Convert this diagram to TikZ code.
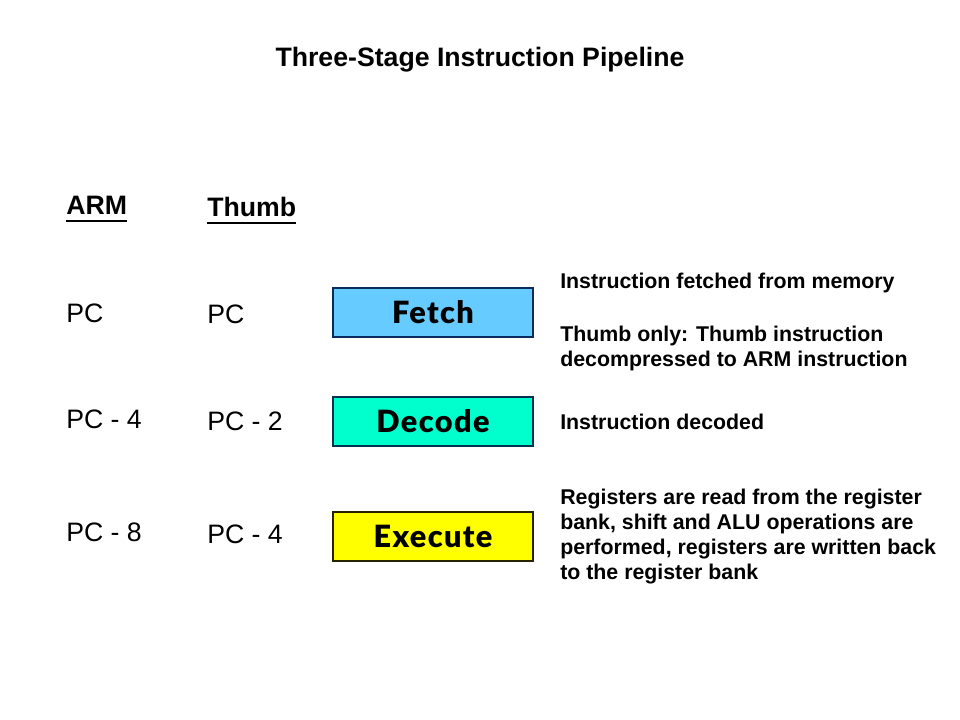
\documentclass[tikz,border=0pt]{standalone}
\usepackage{fontspec}
\setmainfont{Liberation Sans}
\newfontfamily\boxfont[BoldFont={Lato Black},LetterSpace=4.5]{Lato}
\definecolor{fetchfill}{HTML}{66CCFF}
\definecolor{decodefill}{HTML}{00FFCC}
\definecolor{execfill}{HTML}{FFFF00}
\definecolor{fetchline}{HTML}{0B2B5C}
\definecolor{decodeline}{HTML}{0A3050}
\definecolor{execline}{HTML}{262400}
\begin{document}
\begin{tikzpicture}[x=0.75pt,y=-0.75pt,
  txt/.style={inner sep=0pt,anchor=base west,font=\fontsize{20pt}{24pt}\selectfont},
  hdr/.style={txt,font=\fontsize{20pt}{24pt}\selectfont\bfseries},
  note/.style={inner sep=0pt,anchor=base west,align=left,font=\fontsize{16pt}{18.75pt}\selectfont\bfseries},
  stage/.style={draw,line width=1.1pt,minimum width=150pt,minimum height=36.75pt,inner sep=0pt,
    text height=16pt,text depth=0pt,font=\fontsize{23pt}{26pt}\selectfont\boxfont\bfseries},
  uline/.style={line width=1.6pt}]
\useasboundingbox (0,0) rectangle (960,720);
\fill[white] (0,0) rectangle (960,720);
% title
\node[inner sep=0pt,anchor=base,font=\fontsize{20pt}{24pt}\selectfont\bfseries] (title) at (480,67) {Three-Stage Instruction Pipeline};
% headers
\node[hdr] (arm) at (66,215) {ARM};
\node[hdr] (thumb) at (207,217) {Thumb};
\draw[uline] ([yshift=-4.5pt]arm.base west) -- ([yshift=-4.5pt]arm.base east);
\draw[uline] ([yshift=-4.5pt]thumb.base west) -- ([yshift=-4.5pt]thumb.base east);
% PC values
\node[txt] (a1) at (66,322) {PC};
\node[txt] (a2) at (66,428) {PC - 4};
\node[txt] (a3) at (66,541) {PC - 8};
\node[txt] (t1) at (207,324) {PC};
\node[txt] (t2) at (207,430) {PC - 2};
\node[txt] (t3) at (207,543) {PC - 4};
% stages
\node[stage,fill=fetchfill,draw=fetchline] (fetch) at (433,312.5) {Fetch};
\node[stage,fill=decodefill,draw=decodeline] (decode) at (433,421.5) {Decode};
\node[stage,fill=execfill,draw=execline] (execute) at (433,536.5) {Execute};
% notes (multi-line nodes: base is the last line)
\node[note] (n1) at (560,289) {Instruction fetched from memory};
\node[note] (n2) at (560,366) {Thumb only: Thumb instruction\\decompressed to ARM instruction};
\node[note] (n3) at (560,429) {Instruction decoded};
\node[note] (n4) at (560,579) {Registers are read from the register\\bank, shift and ALU operations are\\performed, registers are written back\\to the register bank};
\end{tikzpicture}
\end{document}
